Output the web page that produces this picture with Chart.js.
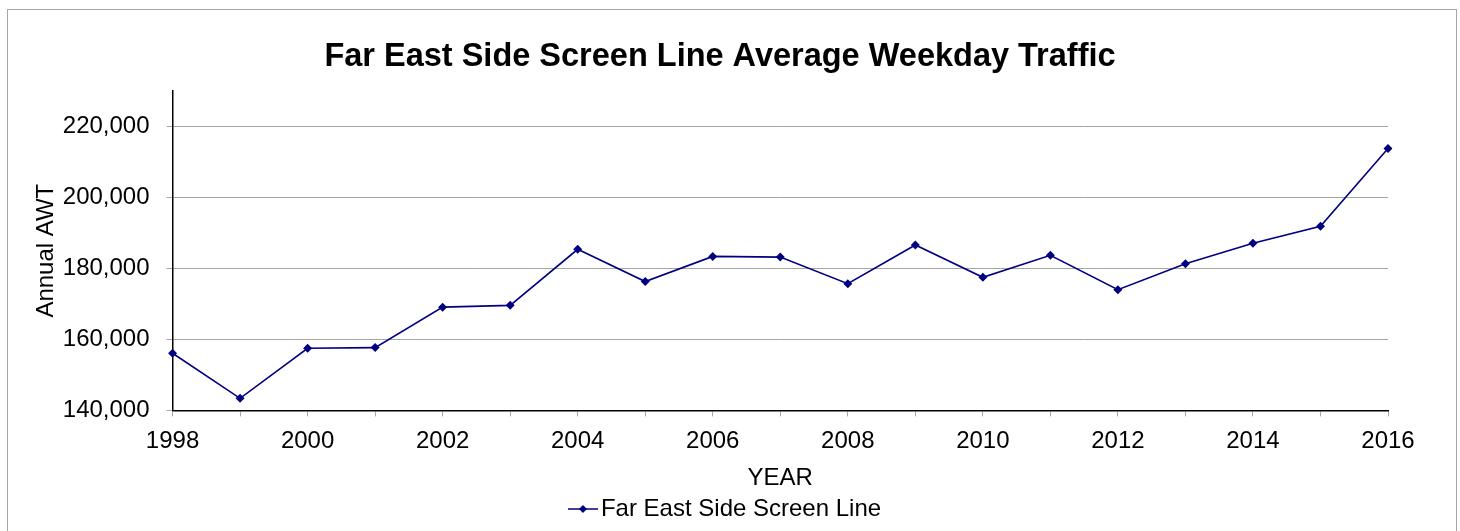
<!DOCTYPE html>
<html>
<head>
<meta charset="utf-8">
<script src="https://cdn.jsdelivr.net/npm/chart.js@4.4.0/dist/chart.umd.min.js"></script>
<style>
html, body { margin: 0; padding: 0; background: #fff; overflow: hidden; }
#frame { position: absolute; left: 7px; top: 9px; width: 1448px; height: 600px; border: 1px solid #a6a6a6; }
#myChart { position: absolute; left: 0; top: 0; }
</style>
</head>
<body>
<div id="frame"></div>
<canvas id="myChart" width="1460" height="531"></canvas>
<script>
// data
var years = ["1998", "1999", "2000", "2001", "2002", "2003", "2004", "2005", "2006", "2007",
             "2008", "2009", "2010", "2011", "2012", "2013", "2014", "2015", "2016"];
var awt = [156100, 143400, 157500, 157700, 169100, 169600, 185400, 176300, 183400, 183200,
           175700, 186600, 177500, 183700, 174000, 181300, 187100, 191900, 213800];
var yTicks = [140000, 160000, 180000, 200000, 220000];
var seriesName = "Far East Side Screen Line";

var navy = "#000080";
var fontFamily = "'Liberation Sans', Arial, sans-serif";

// legend marker: short line with a diamond in the middle
var marker = document.createElement("canvas");
marker.width = 48;
marker.height = 12;
var mctx = marker.getContext("2d");
mctx.strokeStyle = navy;
mctx.lineWidth = 1.5;
mctx.beginPath();
mctx.moveTo(18, 6);
mctx.lineTo(48, 6);
mctx.stroke();
mctx.fillStyle = navy;
mctx.beginPath();
mctx.moveTo(33, 2);
mctx.lineTo(37, 6);
mctx.lineTo(33, 10);
mctx.lineTo(29, 6);
mctx.closePath();
mctx.fill();

var ctx = document.getElementById("myChart").getContext("2d");
var chart = new Chart(ctx, {
  type: "line",
  data: {
    labels: years,
    datasets: [
      {
        label: seriesName,
        data: awt,
        borderColor: navy,
        backgroundColor: navy,
        borderWidth: 1.6,
        pointStyle: "rectRot",
        pointRadius: 4.5,
        pointBorderWidth: 0,
        pointBackgroundColor: navy,
        tension: 0,
        fill: false,
      },
    ],
  },
  options: {
    responsive: false,
    animation: false,
    devicePixelRatio: 1,
    layout: { padding: { left: 32, right: 52, top: 0, bottom: 0 } },
    plugins: {
      title: {
        display: true,
        text: "Far East Side Screen Line Average Weekday Traffic",
        color: "#000",
        font: { family: fontFamily, size: 32.5, weight: "bold" },
        padding: { top: 38, bottom: 14 },
      },
      legend: {
        display: true,
        position: "bottom",
        labels: {
          color: "#000",
          font: { family: fontFamily, size: 24 },
          usePointStyle: true,
          pointStyle: marker,
          boxWidth: 30,
          pointStyleWidth: 30,
          padding: 2,
        },
      },
      tooltip: { enabled: false },
    },
    scales: {
      x: {
        offset: false,
        grid: {
          display: true,
          offset: false,
          drawOnChartArea: false,
          drawTicks: true,
          tickLength: 6,
          tickColor: "#a6a6a6",
        },
        border: { display: true, color: "#000", width: 1.5 },
        ticks: {
          autoSkip: false,
          maxRotation: 0,
          minRotation: 0,
          padding: 11,
          color: "#000",
          font: { family: fontFamily, size: 24 },
          callback: function (value, index) {
            return index % 2 === 0 ? years[index] : "";
          },
        },
        title: {
          display: true,
          text: "YEAR",
          color: "#000",
          font: { family: fontFamily, size: 24 },
          padding: { top: -3, bottom: 2 },
        },
      },
      y: {
        min: 140000,
        max: 230000,
        afterBuildTicks: function (scale) {
          scale.ticks = yTicks.map(function (v) { return { value: v }; });
        },
        grid: {
          color: "#a6a6a6",
          lineWidth: 1,
          drawTicks: true,
          tickLength: 6,
          tickColor: "#a6a6a6",
        },
        border: { display: true, color: "#000", width: 1.5 },
        ticks: {
          padding: 17,
          color: "#000",
          font: { family: fontFamily, size: 24 },
          callback: function (value) {
            return Number(value).toLocaleString("en-US");
          },
        },
        title: {
          display: true,
          text: "Annual AWT",
          color: "#000",
          font: { family: fontFamily, size: 24 },
          padding: { top: 0, bottom: -15 },
        },
      },
      // empty spacer on the right so the title and legend sit nearer the page centre
      y2: {
        position: "right",
        display: true,
        grid: { display: false, drawTicks: false },
        border: { display: false },
        ticks: { display: false },
        afterFit: function (scale) {
          scale.width = 20;
        },
      },
    },
  },
});
</script>
</body>
</html>
